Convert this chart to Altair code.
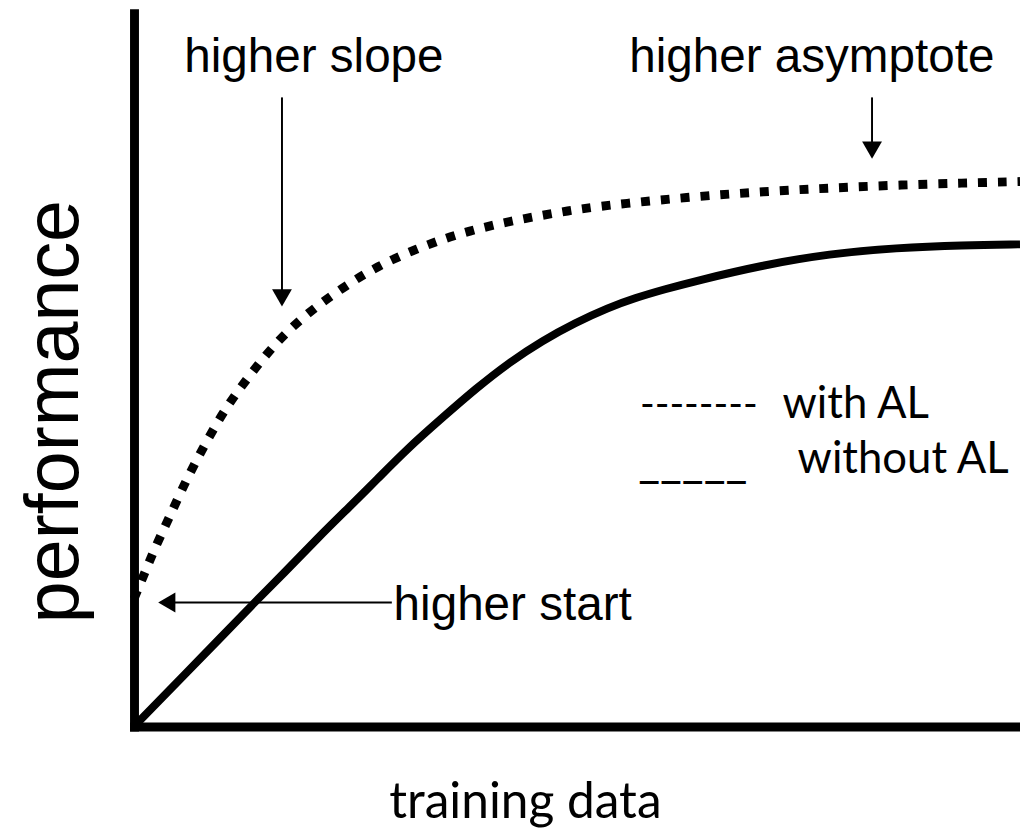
import altair as alt
import pandas as pd

# ---- curve data (x: training data, y: performance; arbitrary 0-100 units) ----
with_al_x = [0, 1.2, 2.2, 3.9, 5.9, 8.1, 10.4, 13.2, 16.2, 19.6, 23.5, 27.4, 31.9,
             36.4, 41.1, 45.7, 50.4, 55.1, 63.3, 71.1, 78.5, 86.0, 93.6, 100]
with_al_y = [17.9, 21.5, 24.6, 29.1, 34.6, 39.8, 44.8, 49.5, 54.1, 58.0, 61.5, 64.5, 67.0,
             69.0, 70.5, 71.6, 72.6, 73.3, 74.3, 75.0, 75.5, 75.9, 76.2, 76.4]

without_al_x = [0, 2.8, 5.8, 9.5, 13.2, 17.0, 20.7, 24.4, 27.4, 30.8, 34.9, 38.6, 42.3,
                46.1, 49.8, 53.5, 56.6, 59.9, 63.5, 71.0, 78.5, 86.0, 93.6, 100]
without_al_y = [0, 3.6, 7.4, 12.1, 16.9, 21.6, 26.4, 30.9, 34.6, 38.9, 43.4, 47.4, 51.0,
                54.1, 56.6, 58.7, 60.1, 61.3, 62.5, 64.7, 66.3, 67.1, 67.5, 67.6]

# ---- annotations ----
annot_text = ["higher slope", "higher asymptote"]
annot_text_x = [20.3, 76.5]
annot_text_y = [91.7, 91.7]

start_text = ["higher start"]
start_text_x = [29.3]
start_text_y = [14.9]

legend_marker_dash = ["--------"]
legend_marker_line = ["_____"]
legend_label = ["with AL", "without AL"]
legend_marker_x = [57.1, 56.9]
legend_label_x = [73.2, 74.9]
legend_y = [43.3, 35.6]

# vertical arrows (higher slope, higher asymptote)
varrow_x = [16.7, 83.3]
varrow_y_from = [88.2, 88.2]
varrow_y_to = [60.1, 80.8]
# horizontal arrow (higher start)
harrow_y = [17.4]
harrow_x_from = [29.1]
harrow_x_to = [3.7]

X_TITLE = "training data"
Y_TITLE = "performance"

df_with = pd.DataFrame({"x": with_al_x, "y": with_al_y})
df_without = pd.DataFrame({"x": without_al_x, "y": without_al_y})
df_annot = pd.DataFrame({"label": annot_text, "x": annot_text_x, "y": annot_text_y})
df_start = pd.DataFrame({"label": start_text, "x": start_text_x, "y": start_text_y})
df_mdash = pd.DataFrame({"label": legend_marker_dash, "x": legend_marker_x[:1], "y": legend_y[:1]})
df_mline = pd.DataFrame({"label": legend_marker_line, "x": legend_marker_x[1:], "y": legend_y[1:]})
df_legend = pd.DataFrame({"label": legend_label, "x": legend_label_x, "y": legend_y})
df_varrow = pd.DataFrame({"x": varrow_x, "y": varrow_y_from, "y2": varrow_y_to})
df_harrow = pd.DataFrame({"y": harrow_y, "x": harrow_x_from, "x2": harrow_x_to})

xscale = alt.Scale(domain=[0, 100], nice=False, zero=False)
yscale = alt.Scale(domain=[0, 100], nice=False, zero=False)

x_axis = alt.Axis(domain=True, domainColor="black", domainWidth=9, domainCap="square",
                  ticks=False, labels=False, grid=False, title=X_TITLE,
                  titleFont="Lato", titleFontSize=50, titleFontWeight="normal",
                  titleColor="black", titleX=394, titleY=92, titleAlign="center",
                  titleBaseline="alphabetic")
y_axis = alt.Axis(domain=True, domainColor="black", domainWidth=9, domainCap="square",
                  ticks=False, labels=False, grid=False, title=Y_TITLE,
                  titleFont="Liberation Sans", titleFontSize=76, titleFontWeight="normal",
                  titleColor="black", titleAngle=270, titleX=-57, titleY=401,
                  titleAlign="center", titleBaseline="alphabetic")

solid = alt.Chart(df_without).mark_line(color="black", strokeWidth=8, interpolate="basis").encode(
    x=alt.X("x:Q", scale=xscale, axis=x_axis),
    y=alt.Y("y:Q", scale=yscale, axis=y_axis),
)
dotted = alt.Chart(df_with).mark_line(color="black", strokeWidth=9, strokeDash=[9, 11],
                                      interpolate="basis").encode(
    x=alt.X("x:Q", scale=xscale),
    y=alt.Y("y:Q", scale=yscale),
)

vlines = alt.Chart(df_varrow).mark_rule(color="black", strokeWidth=2).encode(
    x="x:Q", y="y:Q", y2="y2:Q")
vheads = alt.Chart(df_varrow).mark_point(shape="triangle-down", filled=True, color="black",
                                         opacity=1, size=400).encode(x="x:Q", y="y2:Q")
hline = alt.Chart(df_harrow).mark_rule(color="black", strokeWidth=2).encode(
    y="y:Q", x="x:Q", x2="x2:Q")
hhead = alt.Chart(df_harrow).mark_point(shape="triangle-left", filled=True, color="black",
                                        opacity=1, size=400).encode(x="x2:Q", y="y:Q")

annot = alt.Chart(df_annot).mark_text(font="Liberation Sans", fontSize=48, color="black",
                                      align="center", baseline="alphabetic").encode(
    x="x:Q", y="y:Q", text="label:N")
start = alt.Chart(df_start).mark_text(font="Liberation Sans", fontSize=48, color="black",
                                      align="left", baseline="alphabetic").encode(
    x="x:Q", y="y:Q", text="label:N")
mdash = alt.Chart(df_mdash).mark_text(font="Lato", fontSize=40, color="black",
                                      align="left", baseline="alphabetic").encode(
    x="x:Q", y="y:Q", text="label:N")
mline = alt.Chart(df_mline).mark_text(font="Lato", fontSize=48, color="black",
                                      align="left", baseline="alphabetic", dy=4).encode(
    x="x:Q", y="y:Q", text="label:N")
legend = alt.Chart(df_legend).mark_text(font="Lato", fontSize=44, color="black",
                                        align="left", baseline="alphabetic").encode(
    x="x:Q", y="y:Q", text="label:N")

chart = alt.layer(solid, dotted, vlines, vheads, hline, hhead, annot, start,
                  mdash, mline, legend).properties(
    width=893, height=719,
    autosize=alt.AutoSizeParams(type="none"),
    padding={"left": 127, "top": 2, "right": 0, "bottom": 104},
).configure_view(stroke=None)

chart.save("out.html", embed_options={"renderer": "svg", "actions": False})
